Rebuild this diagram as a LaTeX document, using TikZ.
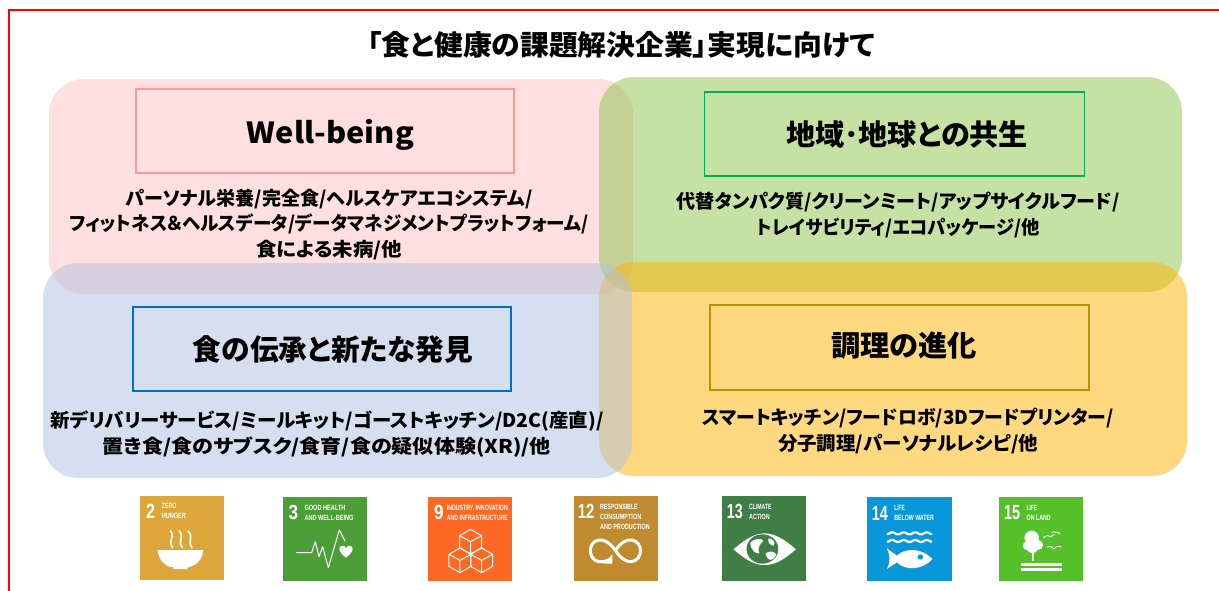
\documentclass[tikz,border=0pt]{standalone}
\usepackage{fontspec}
\usepackage{graphicx}
\newfontfamily\jpf[RawFeature=+palt]{Noto Sans CJK JP}
\newfontfamily\lsf{Liberation Sans}
\newcommand{\fw}[2]{\resizebox{#1pt}{\height}{#2}}
\definecolor{pinkP}{HTML}{FFC1C1}
\definecolor{greenP}{HTML}{8DC54B}
\definecolor{yellowP}{HTML}{FFB300}
\definecolor{blueP}{HTML}{AFC1E1}
\definecolor{lineP}{HTML}{FF9999}
\definecolor{lineG}{HTML}{00B050}
\definecolor{lineB}{HTML}{0070C0}
\definecolor{lineY}{HTML}{BF9000}
\definecolor{sdgA}{HTML}{DDA63A}
\definecolor{sdgB}{HTML}{4C9F38}
\definecolor{sdgC}{HTML}{FD6925}
\definecolor{sdgD}{HTML}{BF8B2E}
\definecolor{sdgE}{HTML}{3F7E44}
\definecolor{sdgF}{HTML}{0A97D9}
\definecolor{sdgG}{HTML}{56C02B}
\tikzset{
  panel/.style={rectangle,rounded corners=35pt,inner sep=0pt,fill opacity=.5,draw=none},
  headbox/.style={rectangle,inner sep=0pt,line width=1.8pt,draw=#1},
  head/.style={inner sep=0pt,font=\jpf\bfseries\fontsize{29}{32}\selectfont},
  body/.style={inner sep=0pt,align=center,font=\jpf\bfseries\fontsize{19}{25.4}\selectfont},
  tile/.style={rectangle,inner sep=0pt,minimum width=84pt,minimum height=84pt,fill=#1,anchor=north west},
  sdgnum/.style={inner sep=0pt,text=white,font=\lsf\bfseries\fontsize{20.5}{22}\selectfont},
  sdgtxt/.style={inner sep=0pt,anchor=base west,text=white,font=\lsf\bfseries\fontsize{7.6}{8}\selectfont},
  iconline/.style={draw=white,line cap=round,line join=round},
  cubeicon/.pic={
    \draw[iconline,line width=1pt] (0,-37)--(33,-18)--(33,18)--(0,37)--(-33,18)--(-33,-18)--cycle
      (-33,-18)--(0,0)--(33,-18) (0,0)--(0,37);
  }
}
\begin{document}
\begin{tikzpicture}[x=1pt,y=-1pt]
\useasboundingbox (0,0) rectangle (1219,590);
\fill[white] (0,0) rectangle (1219,590);
% frame
\draw[red,line width=2pt] (8.5,591) -- (8.5,10) -- (1220,10);
% title
\node[inner sep=0pt,font=\jpf\bfseries\fontsize{28}{32}\selectfont] (title) at (621,45) {\fw{508}{「食と健康の課題解決企業」実現に向けて}};
% panels
\node[panel,fill=pinkP,minimum width=584pt,minimum height=215pt] (pP) at (341,186.5) {};
\node[panel,fill=greenP,minimum width=583pt,minimum height=215pt] (pG) at (890.5,184.5) {};
\node[panel,fill=yellowP,minimum width=588pt,minimum height=214pt] (pY) at (893,369) {};
\node[panel,fill=blueP,minimum width=589pt,minimum height=215pt] (pB) at (337.5,370.5) {};
% heading boxes
\node[headbox=lineP,minimum width=378pt,minimum height=84pt] (bP) at (325,131) {};
\node[headbox=lineG,minimum width=380pt,minimum height=84pt] (bG) at (894.5,134) {};
\node[headbox=lineB,minimum width=378pt,minimum height=84pt] (bB) at (322,349) {};
\node[headbox=lineY,minimum width=379pt,minimum height=85pt] (bY) at (899.5,347.5) {};
% heading text
\node[head] (hP) at (330.5,134.5) {\fw{167}{Well-being}};
\node[head] (hG) at (907,134.5) {\fw{242}{地域･地球との共生}};
\node[head] (hB) at (333,350) {\fw{280}{食の伝承と新たな発見}};
\node[head] (hY) at (904,346) {\fw{146}{調理の進化}};
% bodies
\node[body] (tP) at (329,224.5) {\fw{407}{パーソナル栄養/完全食/ヘルスケアエコシステム/}\\\fw{519}{フィットネス＆ヘルスデータ/データマネジメントプラットフォーム/}\\\fw{146}{食による未病/他}};
\node[body] (tG) at (898,215) {\fw{443}{代替タンパク質/クリーンミート/アップサイクルフード/}\\\fw{283}{トレイサビリティ/エコパッケージ/他}};
\node[body] (tB) at (327,434) {\fw{553}{新デリバリーサービス/ミールキット/ゴーストキッチン/D2C(産直)/}\\\fw{448}{置き食/食のサブスク/食育/食の疑似体験(XR)/他}};
\node[body] (tY) at (908,431) {\fw{411}{スマートキッチン/フードロボ/3Dフードプリンター/}\\\fw{260}{分子調理/パーソナルレシピ/他}};
% SDG tiles
\node[tile=sdgA] (s2) at (140,496) {};
\node[tile=sdgB] (s3) at (283,497) {};
\node[tile=sdgC] (s9) at (428,497) {};
\node[tile=sdgD,minimum height=85pt] (s12) at (574,496) {};
\node[tile=sdgE,minimum height=85pt] (s13) at (722,496) {};
\node[tile=sdgF,minimum width=85pt] (s14) at (867,497) {};
\node[tile=sdgG] (s15) at (999,497) {};
% --- tiles 2, 3, 9 (coordinates scaled x3)
\begin{scope}[shift={(130,485)},x=.3333pt,y=-.3333pt]
  \node[sdgnum] (n2) at (62,80) {\fw{9}{2}};
  \node[sdgtxt] (a2) at (95,71) {\fw{14.5}{ZERO}};
  \node[sdgtxt] (b2) at (95,101) {\fw{24}{HUNGER}};
  \fill[white] (83,195) -- (220,195) .. controls (218,225) and (195,245) .. (172,247) -- (172,252) -- (130,252) -- (130,247) .. controls (105,245) and (85,225) .. (83,195) -- cycle;
  \draw[iconline,line width=1.6pt] (128,188) .. controls (112,165) and (136,160) .. (122,138);
  \draw[iconline,line width=1.6pt] (157,188) .. controls (141,165) and (165,160) .. (148,138);
  \draw[iconline,line width=1.6pt] (186,188) .. controls (170,165) and (194,160) .. (174,138);
  % 3
  \node[sdgnum] (n3) at (490,82) {\fw{9.5}{3}};
  \node[sdgtxt] (a3) at (523,76) {\fw{41}{GOOD HEALTH}};
  \node[sdgtxt] (b3) at (523,106) {\fw{49}{AND WELL-BEING}};
  \draw[iconline,line width=1pt] (500,203) -- (545,203) -- (556,170) -- (567,215) -- (578,185) -- (595,248) -- (628,135) -- (645,168);
  \fill[white] (648,218) .. controls (620,197) and (626,182) .. (638,182) .. controls (643,182) and (646,185) .. (648,190) .. controls (650,185) and (653,182) .. (658,182) .. controls (670,182) and (676,197) .. (648,218) -- cycle;
  % 9
  \node[sdgnum] (n9) at (927,82) {\fw{9.5}{9}};
  \node[sdgtxt] (a9) at (950,75) {\fw{61}{INDUSTRY, INNOVATION}};
  \node[sdgtxt] (b9) at (950,105) {\fw{61}{AND INFRASTRUCTURE}};
  \pic at (1022,170) {cubeicon};
  \pic at (990,226) {cubeicon};
  \pic at (1055,226) {cubeicon};
\end{scope}
% --- tiles 12, 13, 14, 15 (coordinates scaled x2.9 / x3)
\begin{scope}[shift={(560,485)},x=.3448pt,y=-.3333pt]
  \node[sdgnum] (n12) at (76,80) {\fw{16.5}{12}};
  \node[sdgtxt] (a12) at (116,72) {\fw{37.5}{RESPONSIBLE}};
  \node[sdgtxt] (b12) at (116,102) {\fw{41}{CONSUMPTION}};
  \node[sdgtxt] (c12) at (116,132) {\fw{49.5}{AND PRODUCTION}};
  \draw[iconline,line width=3pt] (161,197) .. controls (145,172) and (125,162) .. (112,165) .. controls (80,170) and (80,224) .. (112,230) .. controls (122,232) and (130,230) .. (140,225);
  \draw[iconline,line width=3pt] (161,197) .. controls (175,172) and (195,162) .. (208,165) .. controls (242,170) and (242,224) .. (208,230) .. controls (195,232) and (177,222) .. (161,197);
  \fill[white] (152,208) -- (152,236) -- (126,236) -- cycle;
  % 13
  \node[sdgnum] (n13) at (507,80) {\fw{16}{13}};
  \node[sdgtxt] (a13) at (548,72) {\fw{22.5}{CLIMATE}};
  \node[sdgtxt] (b13) at (548,102) {\fw{20.5}{ACTION}};
  \fill[white] (503,193) .. controls (540,160) and (565,146) .. (593,145) .. controls (622,146) and (648,160) .. (684,193) .. controls (648,226) and (622,240) .. (593,240) .. controls (565,240) and (540,226) .. (503,193) -- cycle;
  \fill[sdgE] (587,192) ellipse [x radius=46,y radius=44];
  \fill[white] (552,172) .. controls (565,160) and (585,158) .. (590,168) .. controls (578,178) and (572,190) .. (578,205) .. controls (568,208) and (552,195) .. (552,172) -- cycle;
  \fill[white] (596,205) .. controls (612,195) and (628,200) .. (626,212) .. controls (618,228) and (602,232) .. (596,205) -- cycle;
  \fill[white] (604,160) .. controls (616,160) and (626,172) .. (620,182) .. controls (610,182) and (602,172) .. (604,160) -- cycle;
  % 14
  \node[sdgnum] (n14) at (928,84) {\fw{16}{14}};
  \node[sdgtxt] (a14) at (969,76) {\fw{10.5}{LIFE}};
  \node[sdgtxt] (b14) at (969,106) {\fw{39.5}{BELOW WATER}};
  \draw[iconline,line width=2.2pt] plot[domain=950:1077,samples=70] (\x,{145+3*cos((\x-947)*10.8)});
  \draw[iconline,line width=2.2pt] plot[domain=950:1077,samples=70] (\x,{168+3*cos((\x-947)*10.8)});
  \fill[white] (1080,222) .. controls (1050,188) and (1000,188) .. (977,212) -- (948,190) .. controls (958,210) and (958,235) .. (948,252) -- (977,232) .. controls (1000,257) and (1050,257) .. (1080,222) -- cycle;
  \fill[sdgF] (1045,216) circle [radius=8];
  % 15
  \node[sdgnum] (n15) at (1311,84) {\fw{16}{15}};
  \node[sdgtxt] (a15) at (1353,76) {\fw{10.5}{LIFE}};
  \node[sdgtxt] (b15) at (1353,106) {\fw{24}{ON LAND}};
  \fill[white] (1368,158) circle [radius=21];
  \fill[white] (1356,182) circle [radius=14];
  \fill[white] (1386,180) circle [radius=15];
  \fill[white] (1370,187) circle [radius=17];
  \fill[white] (1369,200) rectangle (1376,228);
  \fill[white] (1337,235) rectangle (1457,243);
  \fill[white] (1337,250) rectangle (1457,258);
  \draw[iconline,line width=.8pt] (1402,158) .. controls (1412,150) and (1420,150) .. (1424,156) .. controls (1426,150) and (1430,148) .. (1434,150);
  \draw[iconline,line width=.8pt] (1426,142) .. controls (1432,138) and (1436,140) .. (1438,144) .. controls (1442,140) and (1446,142) .. (1450,146);
  \draw[iconline,line width=.8pt] (1412,186) .. controls (1420,182) and (1428,184) .. (1432,192) .. controls (1436,184) and (1444,182) .. (1454,186);
\end{scope}
\end{tikzpicture}
\end{document}
